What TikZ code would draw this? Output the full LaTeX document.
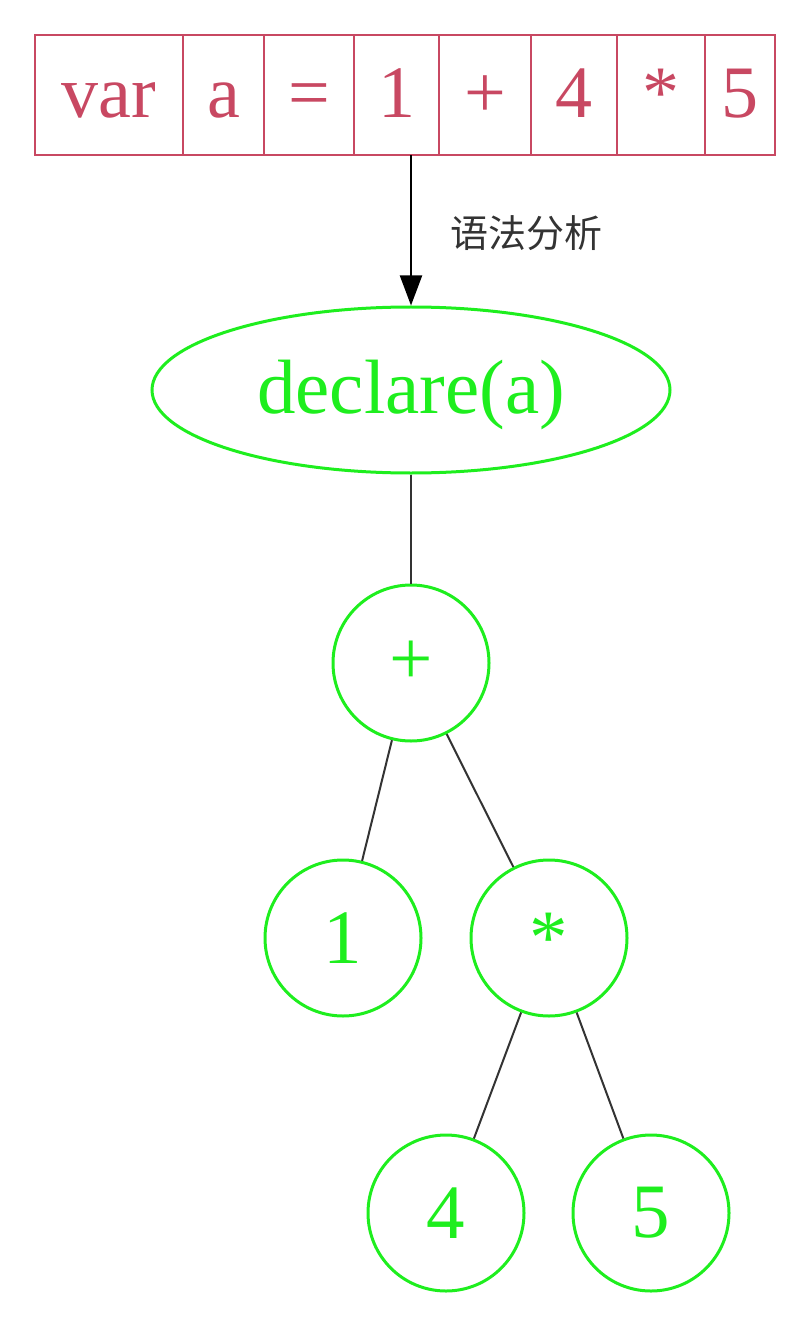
\documentclass[tikz,border=0pt]{standalone}
\usepackage{fontspec}
\setmainfont{Liberation Serif}
\newfontfamily\cjk{Noto Sans CJK SC}
\usepackage{xcolor}
\usetikzlibrary{shapes.geometric, arrows.meta, positioning}
\definecolor{tokred}{RGB}{200,72,98}
\definecolor{astgreen}{RGB}{30,238,30}
\tikzstyle{token} = [rectangle, draw=tokred, text=tokred, line width=1pt, minimum height=60pt, outer sep=0pt, inner sep=0pt, text height=23pt, text depth=0pt, font=\fontsize{37}{40}\selectfont]
\tikzstyle{decl} = [ellipse, draw=astgreen, text=astgreen, line width=1.5pt, minimum width=259pt, minimum height=83pt, text height=23pt, text depth=0pt, font=\fontsize{38.5}{42}\selectfont]
\tikzstyle{leaf} = [circle, draw=astgreen, text=astgreen, line width=1.5pt, minimum size=78pt, inner sep=0pt, font=\fontsize{38.5}{42}\selectfont]
\tikzstyle{arrow} = [line width=1pt, -{Triangle[length=15pt,width=11pt]}]
\tikzstyle{edge} = [line width=1pt, draw=black!80]

\begin{document}
\begin{tikzpicture}[x=0.5pt, y=-0.5pt]
   \useasboundingbox (0,0) rectangle (812,1342);
   % token row
   \node (tvar) [token, minimum width=74pt] at (109,95) {var};
   \node (ta) [token, minimum width=40.5pt, right=0pt of tvar] {a};
   \node (teq) [token, minimum width=45pt, right=0pt of ta] {=};
   \node (tone) [token, minimum width=42.5pt, right=0pt of teq] {1};
   \node (tplus) [token, minimum width=46pt, right=0pt of tone] {+};
   \node (tfour) [token, minimum width=43pt, right=0pt of tplus] {4};
   \node (tmul) [token, minimum width=44pt, right=0pt of tfour] {*};
   \node (tfive) [token, minimum width=35pt, right=0pt of tmul] {5};
   % syntax tree
   \node (decl) [decl] at (411,390) {declare(a)};
   \node (plus) [leaf] at (411,663) {+};
   \node (one) [leaf] at (343,938) {1};
   \node (mul) [leaf] at (549,938) {*};
   \node (four) [leaf] at (446,1213) {4};
   \node (five) [leaf] at (651,1213) {5};
   \draw [arrow] (tone.south -| decl.north) -- node[anchor=west, xshift=16pt, yshift=-1.5pt, text=black!80, font=\cjk\fontsize{19}{22}\selectfont] {语法分析} (decl.north);
   \draw [edge] (decl) -- (plus);
   \draw [edge] (plus) -- (one);
   \draw [edge] (plus) -- (mul);
   \draw [edge] (mul) -- (four);
   \draw [edge] (mul) -- (five);
\end{tikzpicture}
\end{document}
